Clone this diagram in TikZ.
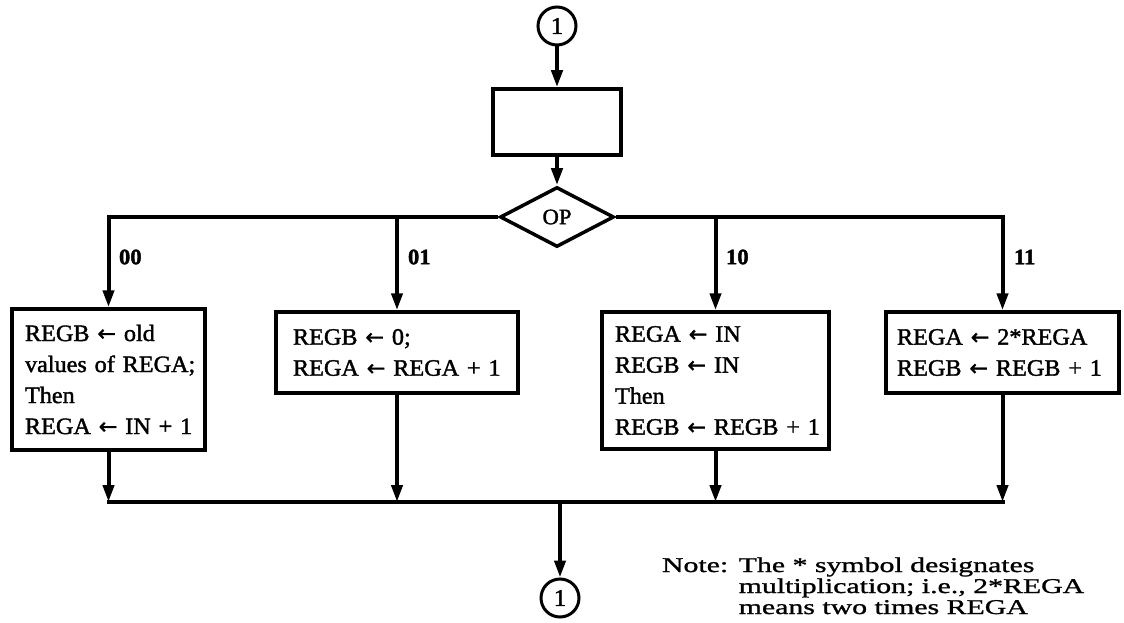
\documentclass[tikz,border=0pt]{standalone}
\usepackage{fontspec}
\setmainfont{Liberation Serif}[FakeStretch=1.03,FakeBold=1.6]
\newfontfamily\notefont{Liberation Serif}[FakeStretch=1.42,FakeBold=1.2]
\newfontfamily\arrowfont{DejaVu Sans}[Scale=0.95,FakeBold=1]
\newcommand{\larr}{{\arrowfont ←}}
\usetikzlibrary{shapes.geometric,arrows.meta}
\begin{document}
\begin{tikzpicture}[x=1pt,y=-1pt,
  line width=4pt,
  arr/.style={-{Triangle[length=17pt,width=11pt]}},
  box/.style={draw,line width=3.5pt,inner ysep=0pt,align=left,font=\fontsize{23.5}{31}\selectfont},
  lbl/.style={font=\fontsize{22}{22}\selectfont\bfseries,anchor=west,inner sep=0pt},
  conn/.style={draw,circle,line width=3pt,minimum size=38pt,inner sep=0pt,font=\fontsize{24}{24}\selectfont}
]
\useasboundingbox (0,0) rectangle (1124,623);
% top
\node[conn] (c1) at (557,26) {1};
\node[draw,line width=3.5pt,minimum width=128pt,minimum height=66pt] (b0) at (557,122) {};
\node[draw,diamond,aspect=1.9,minimum width=114pt,minimum height=60pt,inner sep=0pt,line width=3.5pt,font=\fontsize{22}{22}\selectfont] (op) at (557,217) {OP};
\draw[arr] (c1) -- (b0);
\draw[arr] (b0) -- (op);
% boxes
\node[box,text width=167pt,inner xsep=13pt,minimum height=141pt] (b00) at (108.5,379.5)
  {\mbox{REGB \larr{} old}\\\mbox{values of REGA;}\\\mbox{Then}\\\mbox{REGA \larr{} IN + 1}};
\node[box,text width=208pt,inner xsep=17pt,minimum height=81pt] (b01) at (397,352.5)
  {\mbox{REGB \larr{} 0;}\\\mbox{REGA \larr{} REGA + 1}};
\node[box,text width=201pt,inner xsep=13pt,minimum height=137pt] (b10) at (715.5,380.5)
  {\mbox{REGA \larr{} IN}\\\mbox{REGB \larr{} IN}\\\mbox{Then}\\\mbox{REGB \larr{} REGB + 1}};
\node[box,text width=211pt,inner xsep=11pt,minimum height=81pt] (b11) at (1002.5,352.5)
  {\mbox{REGA \larr{} 2*REGA}\\\mbox{REGB \larr{} REGB + 1}};
% branches
\draw[arr] (op.west) -| (b00.north);
\draw[arr] (op.west -| b01.north) -- (b01.north);
\draw[arr] (op.east) -| (b11.north);
\draw[arr] (op.east -| b10.north) -- (b10.north);
\node[lbl] (l00) at (117,257) {00};
\node[lbl] (l01) at (406,257) {01};
\node[lbl] (l10) at (724,257) {10};
\node[lbl] (l11) at (1012,257) {11};
% merge
\coordinate (j) at (560,502);
\draw[arr] (b00.south) -- (b00.south |- j);
\draw[arr] (b01.south) -- (b01.south |- j);
\draw[arr] (b10.south) -- (b10.south |- j);
\draw[arr] (b11.south) -- (b11.south |- j);
\draw[line cap=rect] (b00.south |- j) -- (b11.south |- j);
\node[conn] (c2) at (560,598) {1};
\draw[arr] (j) -- (c2);
% note
\node[anchor=base west,inner sep=0pt,align=left,font=\notefont\fontsize{21}{21}\selectfont] (nt) at (660,572)
  {Note:\enspace\begin{tabular}[t]{@{}l@{}}The * symbol designates\\ multiplication; i.e., 2*REGA\\ means two times REGA\end{tabular}};
\end{tikzpicture}
\end{document}
